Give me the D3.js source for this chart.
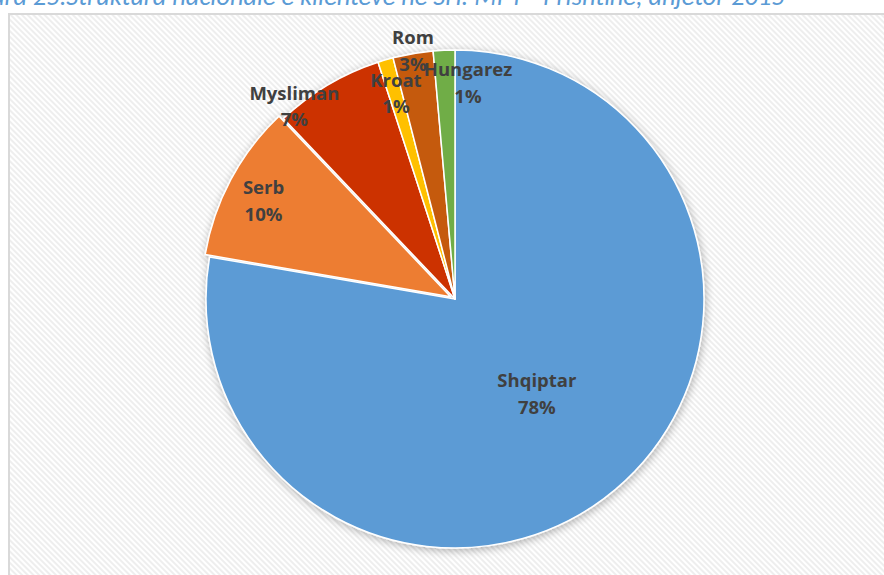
<!DOCTYPE html>
<html>
<head>
<meta charset="utf-8">
<script src="https://cdn.jsdelivr.net/npm/d3@7"></script>
<style>
  body { margin: 0; background: #fff; }
  svg { display: block; }
</style>
</head>
<body>
<div id="chart"></div>
<script>
// data
var groups = ["Shqiptar", "Serb", "Mysliman", "Kroat", "Rom", "Hungarez"];
var shares = [77.7, 10.2, 7.1, 1.0, 2.6, 1.4];
var pctLabels = ["78%", "10%", "7%", "1%", "3%", "1%"];
var colors = ["#5b9bd5", "#ed7d31", "#cc3300", "#ffc000", "#c55a11", "#70ad47"];
var title = "Figura 25.Struktura nacionale e klientëve në SH. MPT - Prishtinë, anjetor 2015";

var width = 884, height = 575;
var cx = 455, cy = 299, radius = 249;

// label placement: [angle shift in degrees, radius factor]
var labelNudge = {
  Shqiptar: [0, 0.51], Serb: [-1.5, 0.86], Mysliman: [-9.4, 1.0],
  Kroat: [0, 0.85], Rom: [0, 1.0], Hungarez: [6, 0.86]
};
var exploded = { Serb: 5 };

var svg = d3.select("#chart").append("svg")
    .attr("width", width)
    .attr("height", height);

var defs = svg.append("defs");

// diagonal stripes of the chart area
var pat = defs.append("pattern")
    .attr("id", "stripes")
    .attr("width", 4).attr("height", 4)
    .attr("patternUnits", "userSpaceOnUse")
    .attr("patternTransform", "rotate(-45)");
pat.append("rect").attr("width", 4).attr("height", 4).attr("fill", "#ffffff");
pat.append("line")
    .attr("x1", 1).attr("y1", 0).attr("x2", 1).attr("y2", 4)
    .attr("stroke", "#eeeeee").attr("stroke-width", 2);

// soft shadow under the slices
var f = defs.append("filter").attr("id", "shadow")
    .attr("x", "-20%").attr("y", "-20%").attr("width", "140%").attr("height", "140%");
f.append("feGaussianBlur").attr("in", "SourceAlpha").attr("stdDeviation", 4);
f.append("feOffset").attr("dx", 1).attr("dy", 2).attr("result", "blur");
f.append("feComponentTransfer").append("feFuncA").attr("type", "linear").attr("slope", 0.3);
var merge = f.append("feMerge");
merge.append("feMergeNode");
merge.append("feMergeNode").attr("in", "SourceGraphic");

// title (cut at the top edge, like the picture)
var t = svg.append("text")
    .attr("y", 5)
    .style("font-family", "Calibri, Carlito, Lato, sans-serif")
    .style("font-style", "italic")
    .style("font-size", "24px")
    .style("fill", "#5b9bd5")
    .text(title);

// fit "25.Struktura ... 2015" to roughly x=22..785 like the reference
var i0 = title.indexOf("25."), i1 = title.length - 1;
var w = t.node().getEndPositionOfChar(i1).x - t.node().getStartPositionOfChar(i0).x;
t.style("font-size", (24 * 752 / w) + "px");
var p0 = t.node().getStartPositionOfChar(i0).x;
t.attr("x", 33 - p0);

// chart frame
svg.append("rect")
    .attr("x", 9).attr("y", 14)
    .attr("width", 900).attr("height", 600)
    .attr("fill", "url(#stripes)")
    .attr("stroke", "#d9d9d9")
    .attr("stroke-width", 2);

var data = groups.map(function(g, i) {
  return { name: g, value: shares[i], label: pctLabels[i], color: colors[i] };
});

var pie = d3.pie().sort(null).value(function(d) { return d.value; });
var arcs = pie(data);

var arc = d3.arc().innerRadius(0).outerRadius(radius);

var g = svg.append("g")
    .attr("transform", "translate(" + cx + "," + cy + ")");

var slices = g.append("g").attr("filter", "url(#shadow)");

slices.selectAll("path")
    .data(arcs)
    .enter()
    .append("path")
    .attr("d", arc)
    .attr("fill", function(d) { return d.data.color; })
    .attr("stroke", "#ffffff")
    .attr("stroke-width", 1.5)
    .attr("stroke-linejoin", "round")
    .attr("transform", function(d) {
      var off = exploded[d.data.name] || 0;
      var a = (d.startAngle + d.endAngle) / 2;
      return "translate(" + (off * Math.sin(a)) + "," + (-off * Math.cos(a)) + ")";
    });

// data labels
var labels = g.selectAll("text.lbl")
    .data(arcs)
    .enter()
    .append("text")
    .attr("class", "lbl")
    .attr("text-anchor", "middle")
    .style("font-family", "'Open Sans', sans-serif")
    .style("font-weight", "bold")
    .style("font-size", "18.5px")
    .style("fill", "#404040")
    .attr("transform", function(d) {
      var n = labelNudge[d.data.name];
      var a = (d.startAngle + d.endAngle) / 2 + n[0] * Math.PI / 180;
      var r = radius * n[1];
      return "translate(" + (r * Math.sin(a)) + "," + (-r * Math.cos(a)) + ")";
    });

labels.append("tspan")
    .attr("x", 0)
    .attr("dy", "-0.5em")
    .text(function(d) { return d.data.name; });
labels.append("tspan")
    .attr("x", 0)
    .attr("dy", "1.45em")
    .text(function(d) { return d.data.label; });
</script>
</body>
</html>
